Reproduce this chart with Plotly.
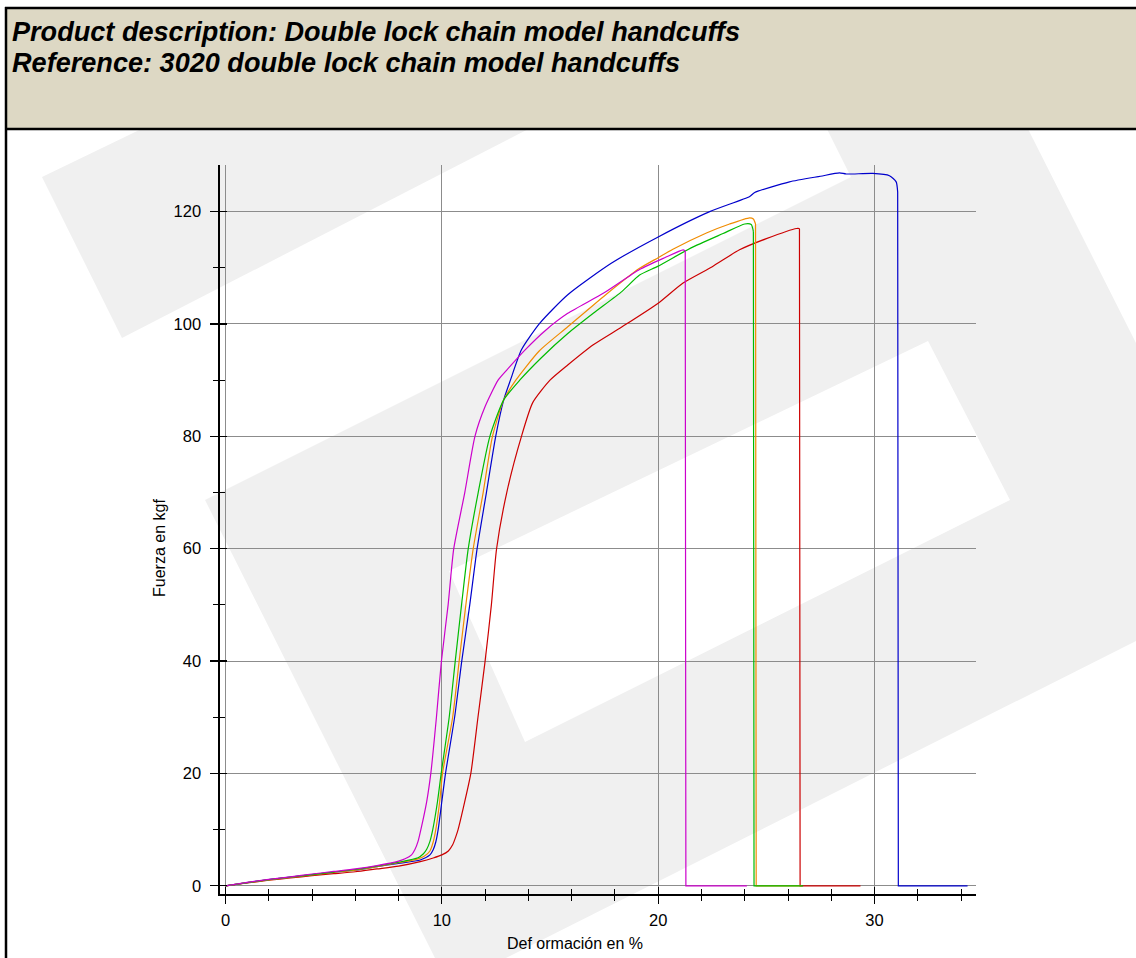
import plotly.graph_objects as go

# ---------------- data ----------------
blue_x = [0, 1, 2, 3, 4, 5, 6, 7, 8, 9.0, 9.45, 9.6, 9.72, 9.83, 10.0, 10.17, 10.59, 10.92, 11.29, 11.63,
          12.06, 12.49, 12.86, 13.17, 13.68, 14.52, 15.82, 17.83, 20.0, 22.38, 24.23, 24.46, 26.07, 27.5,
          28.38, 28.69, 29.92, 30.69, 31.0, 31.07, 31.1, 31.2, 34.3]
blue_y = [0, 0.55, 1.1, 1.55, 2.0, 2.4, 2.8, 3.4, 4.0, 4.6, 5.5, 6.4, 7.8, 10, 15, 20, 30, 40, 50, 60,
          70, 80, 86.5, 90, 95.4, 100.1, 105.2, 110.8, 115.5, 120.0, 122.7, 123.4, 125.3, 126.3,
          126.9, 126.7, 126.8, 126.4, 125.3, 123.5, 0, 0, 0]

orange_x = [0, 1, 2, 3, 4, 5, 6, 7, 8, 8.9, 9.2, 9.45, 9.6, 9.72, 9.9, 10.03, 10.5, 10.8, 11.11, 11.45,
            11.91, 12.34, 12.86, 13.42, 14.5, 15.82, 17.48, 19.14, 20.0, 20.68, 22.23, 23.3, 24.23, 24.4,
            24.5, 24.53, 24.6, 26.65]
orange_y = [0, 0.55, 1.05, 1.5, 1.95, 2.4, 2.8, 3.4, 4.1, 4.8, 5.3, 6.2, 7.8, 10, 15, 20, 30, 40, 50, 60,
            70, 80, 86.5, 90, 95.2, 99.5, 104.9, 109.9, 111.8, 113.3, 116.2, 117.8, 118.9, 118.7,
            117.8, 0, 0, 0]

green_x = [0, 1, 2, 3, 4, 5, 6, 7, 8, 8.9, 9.15, 9.3, 9.45, 9.58, 9.8, 9.97, 10.34, 10.62, 10.91, 11.22,
           11.68, 12.22, 12.86, 13.6, 14.6, 15.82, 17.0, 18.33, 19.14, 20.0, 21.5, 23.0, 24.0, 24.3,
           24.4, 24.43, 24.5, 26.7]
green_y = [0, 0.55, 1.1, 1.55, 2.0, 2.45, 2.9, 3.5, 4.2, 5.0, 5.7, 6.5, 7.9, 10, 15, 20, 30, 40, 50, 60,
           70, 80, 86.5, 90, 94.0, 98.3, 101.9, 105.8, 108.7, 110.3, 113.5, 116.1, 117.8, 117.7,
           116.5, 0, 0, 0]

magenta_x = [0, 1, 2, 3, 4, 5, 6, 7, 8, 8.3, 8.6, 8.75, 8.9, 9.03, 9.3, 9.49, 9.75, 9.98, 10.29, 10.55,
             11.06, 11.53, 12.0, 12.6, 13.0, 13.85, 14.8, 15.82, 17.48, 19.14, 20.3, 21.15, 21.25, 21.28,
             21.35, 24.1]
magenta_y = [0, 0.6, 1.15, 1.6, 2.1, 2.55, 3.0, 3.6, 4.4, 4.8, 5.5, 6.4, 7.9, 10, 15, 20, 30, 40, 50, 60,
             70, 80, 85.3, 90, 91.8, 95.4, 98.9, 101.9, 105.5, 109.7, 111.8, 113.2, 113.0, 0,
             0, 0]

red_x = [0, 1, 2, 3, 4, 5, 6, 7, 8, 9, 9.6, 10.0, 10.3, 10.5, 10.65, 10.75, 11.0, 11.34, 11.67, 12.0,
         12.29, 12.53, 13.0, 13.68, 14.2, 15.0, 15.82, 17.0, 18.33, 20.0, 21.15, 22.5, 23.76, 25.0, 26.4,
         26.53, 26.56, 26.65, 29.35]
red_y = [0, 0.5, 1.0, 1.4, 1.8, 2.15, 2.5, 3.0, 3.5, 4.3, 4.95, 5.5, 6.2, 7.3, 8.8, 10, 14, 20, 30, 40,
         50, 60, 70, 80, 86, 90, 92.7, 96.3, 99.5, 103.7, 107.3, 110.2, 113.2, 115.2, 117.0,
         117.0, 0, 0, 0]

x_tick_vals = [0, 10, 20, 30]
y_tick_vals = [0, 20, 40, 60, 80, 100, 120]

title_line1 = "Product description: Double lock chain model handcuffs"
title_line2 = "Reference: 3020 double lock chain model handcuffs"
x_title = "Def ormación en %"
y_title = "Fuerza en kgf"

# ---------------- layout geometry ----------------
W, H = 1136, 958
L, R, T, B = 220, 976, 165, 894  # plot area in pixels
X_RANGE = [-0.254, 34.69]
Y_RANGE = [-1.46, 128.3]
FONT = "Liberation Sans, Arial, Helvetica, sans-serif"


def px(x):
    return (x - L) / (R - L)


def py(y):
    return (B - y) / (B - T)


def path(points):
    return "M " + " L ".join(f"{px(a):.5f},{py(b):.5f}" for a, b in points) + " Z"


series = [
    (red_x, red_y, "#CC0000"),
    (blue_x, blue_y, "#0000CC"),
    (orange_x, orange_y, "#F08C00"),
    (green_x, green_y, "#00BB00"),
    (magenta_x, magenta_y, "#CC00CC"),
]

fig = go.Figure()
for xs, ys, col in series:
    # index of the break (first zero after the peak)
    k = next(i for i in range(1, len(ys)) if ys[i] == 0 and ys[i - 1] > 50)
    fig.add_trace(go.Scatter(x=xs[:k], y=ys[:k], mode="lines",
                             line=dict(color=col, width=1.2, shape="spline", smoothing=0.6),
                             hoverinfo="skip", showlegend=False))
    fig.add_trace(go.Scatter(x=xs[k - 1:], y=ys[k - 1:], mode="lines",
                             line=dict(color=col, width=1.2),
                             hoverinfo="skip", showlegend=False))

# invisible trace to carry the overlay axes (inside ticks)
fig.add_trace(go.Scatter(x=[0], y=[0], xaxis="x2", yaxis="y2", mode="markers",
                         marker=dict(opacity=0), hoverinfo="skip", showlegend=False))

WM = "#F0F0F0"
shapes = [
    # watermark
    dict(type="path", xref="paper", yref="paper", layer="below", line=dict(width=0), fillcolor=WM,
         path=path([(42, 177), (122, 338), (546, 120), (160, 120)])),
    dict(type="path", xref="paper", yref="paper", layer="below", line=dict(width=0), fillcolor=WM,
         path=path([(205, 500), (851, 177), (825, 125), (1026, 125), (1136, 343), (1136, 641),
                    (502, 960), (436, 960)])),
    dict(type="path", xref="paper", yref="paper", layer="below", line=dict(width=0), fillcolor="white",
         path=path([(449, 571), (928, 341), (1010, 500), (525, 742)])),
    # header box
    dict(type="rect", xref="paper", yref="paper", layer="below", line=dict(width=0), fillcolor="#DDD8C4",
         x0=px(6), x1=px(1140), y0=py(7), y1=py(129)),
    dict(type="line", xref="paper", yref="paper", layer="below", line=dict(width=2.5, color="black"),
         x0=px(5), x1=px(1140), y0=py(8), y1=py(8)),
    dict(type="line", xref="paper", yref="paper", layer="below", line=dict(width=2.5, color="black"),
         x0=px(5), x1=px(1140), y0=py(129), y1=py(129)),
    dict(type="line", xref="paper", yref="paper", layer="below", line=dict(width=2.5, color="black"),
         x0=px(6), x1=px(6), y0=py(7), y1=py(960)),
]

annotations = [
    dict(xref="paper", yref="paper", x=px(10), y=py(32), xanchor="left", yanchor="middle",
         text=title_line1, showarrow=False,
         font=dict(family=FONT, size=27.1, color="black", weight="bold", style="italic")),
    dict(xref="paper", yref="paper", x=px(10), y=py(62), xanchor="left", yanchor="middle",
         text=title_line2, showarrow=False,
         font=dict(family=FONT, size=27.1, color="black", weight="bold", style="italic")),
    dict(xref="paper", yref="paper", x=px(575), y=py(943), xanchor="center", yanchor="middle",
         text=x_title, showarrow=False, font=dict(family=FONT, size=16, color="black")),
    dict(xref="paper", yref="paper", x=px(159), y=py(548), xanchor="center", yanchor="middle",
         text=y_title, textangle=-90, showarrow=False, font=dict(family=FONT, size=16, color="black")),
]

GRID = "#8C8C8C"
tickfont = dict(family=FONT, size=16.5, color="black")

fig.update_layout(
    width=W, height=H,
    margin=dict(l=L, r=W - R, t=T, b=H - B, pad=0, autoexpand=False),
    paper_bgcolor="white", plot_bgcolor="rgba(0,0,0,0)",
    showlegend=False, font=dict(family=FONT, color="black"),
    shapes=shapes, annotations=annotations,
    xaxis=dict(range=X_RANGE, tickmode="array", tickvals=x_tick_vals, ticktext=[str(v) for v in x_tick_vals],
               showgrid=True, gridcolor=GRID, gridwidth=1, zeroline=False,
               showline=True, linecolor="black", linewidth=1.6,
               ticks="outside", ticklen=8, tickwidth=1.3, tickcolor="black",
               minor=dict(dtick=2, tick0=0, ticks="outside", ticklen=5, tickwidth=1.0, tickcolor="black",
                          showgrid=False),
               tickfont=tickfont, ticklabelstandoff=3, fixedrange=True),
    yaxis=dict(range=Y_RANGE, tickmode="array", tickvals=y_tick_vals, ticktext=[str(v) for v in y_tick_vals],
               showgrid=True, gridcolor=GRID, gridwidth=1, zeroline=False,
               showline=True, linecolor="black", linewidth=1.6,
               ticks="outside", ticklen=8, tickwidth=1.3, tickcolor="black",
               minor=dict(dtick=10, tick0=0, ticks="outside", ticklen=5, tickwidth=1.0, tickcolor="black",
                          showgrid=False),
               tickfont=tickfont, ticklabelstandoff=6, fixedrange=True),
    xaxis2=dict(range=X_RANGE, overlaying="x", anchor="y2", side="bottom", showgrid=False, zeroline=False,
                showline=False, showticklabels=False, tickmode="array", tickvals=x_tick_vals,
                ticks="inside", ticklen=7, tickwidth=1.3, tickcolor="black",
                minor=dict(dtick=2, tick0=0, ticks="inside", ticklen=5, tickwidth=1.0, tickcolor="black",
                           showgrid=False), fixedrange=True),
    yaxis2=dict(range=Y_RANGE, overlaying="y", anchor="x2", side="left", showgrid=False, zeroline=False,
                showline=False, showticklabels=False, tickmode="array", tickvals=y_tick_vals,
                ticks="inside", ticklen=7, tickwidth=1.3, tickcolor="black",
                minor=dict(dtick=10, tick0=0, ticks="inside", ticklen=5, tickwidth=1.0, tickcolor="black",
                           showgrid=False), fixedrange=True),
)

fig.write_html("out.html", post_script="document.body.style.margin='0';",
               config={"displayModeBar": False, "staticPlot": True})
